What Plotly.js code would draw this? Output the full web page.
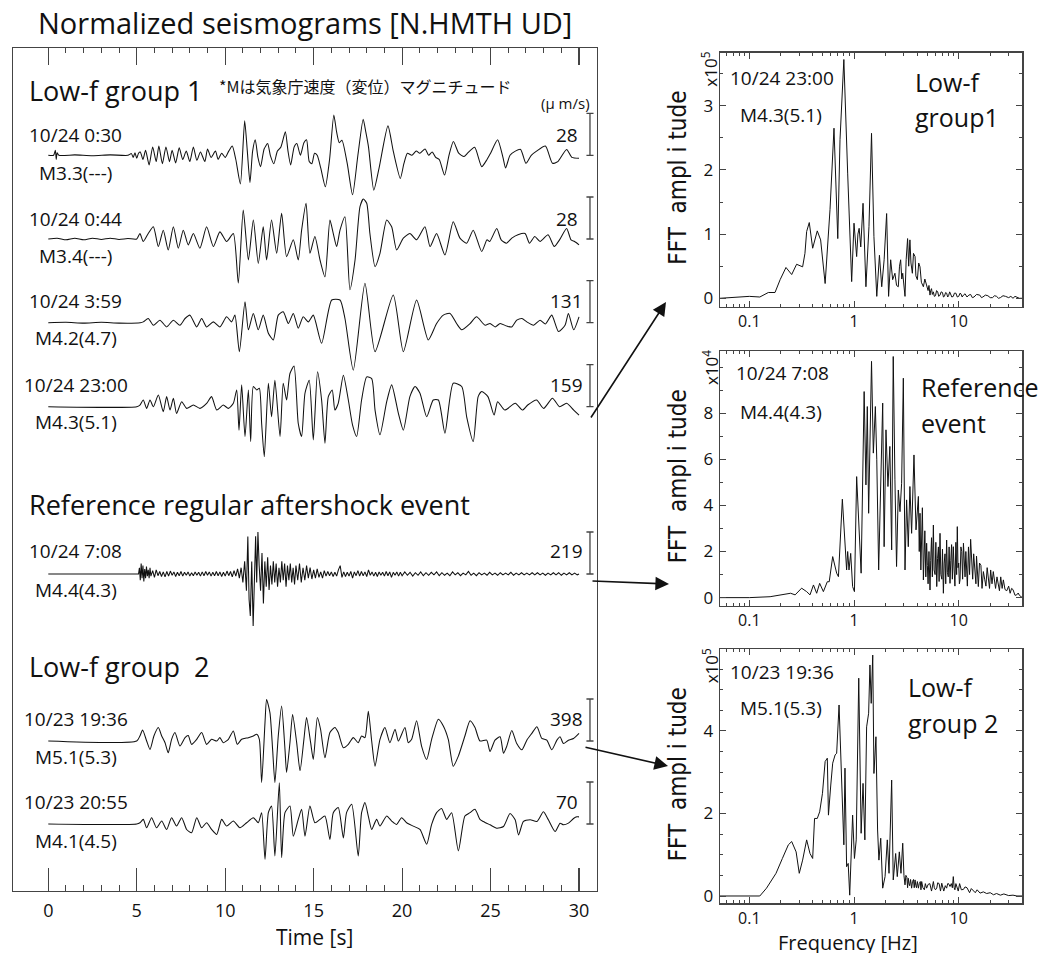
<!DOCTYPE html>
<html><head><meta charset="utf-8">
<script src="https://cdn.plot.ly/plotly-3.0.1.min.js"></script>
<style>html,body{margin:0;padding:0;background:#fff}#chart{width:1063px;height:956px}</style>
</head><body><div id="chart"></div>
<script>
// ---------------- DATA ----------------
// Seismogram traces: [time (s), amplitude normalised to the scale bar]
const trace1 = [[0,0],[0.3,0],[0.4,0.12],[0.45,-0.1],[0.5,0.06],[0.6,0],[1.5,0.01],[2.5,-0.01],[3.5,0.01],[4.5,0],[4.7,0.04],[4.8,-0.05],[4.9,0.06],[5.0,-0.07],[5.1,0.05],[5.2,0.08],[5.35,-0.1],[5.5,0.12],[5.7,-0.23],[5.9,0.2],[6.1,-0.15],[6.25,0.22],[6.45,-0.2],[6.65,0.2],[6.85,-0.15],[7.0,0.12],[7.2,-0.18],[7.4,0.18],[7.6,-0.1],[7.8,0.1],[8.0,-0.15],[8.2,0.2],[8.4,-0.12],[8.6,0.08],[8.85,-0.15],[9.0,0.15],[9.2,-0.05],[9.45,0.1],[9.6,-0.1],[9.8,0.05],[10.0,-0.05],[10.2,0.1],[10.4,0.22],[10.6,-0.1],[10.86,-0.68],[11.1,0.82],[11.25,0.1],[11.4,-0.65],[11.55,0.1],[11.7,0.37],[11.85,-0.05],[12.0,-0.27],[12.2,0.15],[12.4,0.28],[12.55,0],[12.75,-0.2],[12.95,0.1],[13.15,0.2],[13.4,0.56],[13.55,0.1],[13.7,-0.23],[13.9,0.2],[14.05,0.28],[14.25,0],[14.45,0.3],[14.6,0.37],[14.75,-0.15],[14.9,-0.2],[15.05,0.05],[15.2,0],[15.4,-0.3],[15.66,-0.75],[15.9,-0.1],[16.14,0.96],[16.3,0.55],[16.45,0.3],[16.6,0.36],[16.9,-0.2],[17.2,-0.94],[17.5,0],[17.8,0.86],[17.95,0.55],[18.1,0.2],[18.4,-0.83],[18.7,-0.3],[19.2,0.7],[19.5,0.1],[19.9,-0.55],[20.1,-0.2],[20.3,0.05],[20.55,0],[20.8,0.1],[21.0,0.05],[21.3,0.15],[21.5,0],[21.7,0.08],[21.9,-0.05],[22.1,-0.1],[22.4,-0.47],[22.65,0],[22.9,0.33],[23.2,0.05],[23.5,-0.03],[23.7,0.05],[24.1,0.19],[24.5,-0.27],[24.8,-0.1],[25.0,0.05],[25.4,0.37],[25.7,-0.05],[25.85,-0.3],[26.1,0],[26.4,0.1],[26.7,0.14],[27.0,-0.19],[27.3,0],[27.6,0.1],[28.1,0.22],[28.5,-0.19],[28.8,-0.15],[29.3,0.14],[29.6,-0.05],[30,-0.07]];
const trace2 = [[0,0],[0.5,0.02],[1,-0.02],[1.5,0.02],[2,-0.02],[2.5,0.02],[3,-0.01],[3.5,0.02],[4,-0.01],[4.5,0.01],[5,0],[5.18,0.13],[5.37,-0.06],[5.65,0.13],[5.94,0.29],[6.22,-0.18],[6.5,0.21],[6.78,-0.26],[7.07,0.29],[7.35,-0.22],[7.63,0.21],[7.91,-0.14],[8.2,0.13],[8.57,-0.22],[8.95,0.29],[9.33,-0.18],[9.7,0.17],[10.08,-0.06],[10.46,0.13],[10.74,-1.05],[11.02,0.69],[11.31,-0.5],[11.59,0.45],[11.87,-0.58],[12.15,0.29],[12.34,-0.5],[12.62,0.45],[12.91,-0.34],[13.19,0.61],[13.47,-0.42],[13.85,-0.02],[14.13,-0.5],[14.32,0.21],[14.57,0.85],[14.79,-0.34],[15.07,0.06],[15.36,-0.5],[15.64,-0.9],[15.92,0.45],[16.11,0.13],[16.3,-0.18],[16.49,0.21],[16.77,0.53],[17.05,-1.21],[17.34,-0.5],[17.62,0.77],[17.81,0.95],[18.0,0.85],[18.18,0.13],[18.47,-0.66],[18.75,-0.34],[19.13,0.45],[19.41,0.29],[19.69,-0.26],[20.07,0.02],[20.44,0.13],[20.82,-0.02],[21.29,0.29],[21.58,-0.18],[21.95,0.13],[22.42,-0.38],[22.89,0.41],[23.27,0.02],[23.65,-0.1],[24.02,0.21],[24.5,-0.3],[24.8,-0.02],[24.95,-0.06],[25.35,0.25],[25.6,-0.02],[25.9,-0.1],[26.2,0.02],[26.55,0.1],[26.95,0.13],[27.2,-0.1],[27.5,0.06],[27.8,-0.06],[28.25,0.1],[28.6,-0.18],[28.9,-0.02],[29.3,0.25],[29.55,-0.02],[29.75,-0.06],[30,-0.14]];
const trace3 = [[0,0],[1,0.01],[2,-0.01],[3,0.01],[4,-0.01],[5.2,0],[5.37,0.02],[5.65,0.1],[5.94,-0.06],[6.31,0.06],[6.69,-0.1],[7.07,0.06],[7.44,-0.06],[7.73,0.1],[8.01,0.18],[8.39,-0.1],[8.67,0.1],[8.95,-0.1],[9.33,0.02],[9.7,-0.1],[10.08,0.14],[10.36,0.02],[10.55,0.18],[10.8,-0.69],[11.12,0.5],[11.31,-0.17],[11.59,0.22],[11.87,-0.17],[12.15,0.18],[12.44,-0.25],[12.72,-0.41],[13.0,0.18],[13.28,0.26],[13.57,-0.02],[13.85,0.22],[14.13,-0.13],[14.41,0.14],[14.7,0.02],[14.98,0.18],[15.45,-0.49],[16.02,0.54],[16.49,0.54],[16.77,0.1],[17.24,-1.13],[17.9,0.94],[18.47,-0.69],[19.5,0.66],[20.07,-0.69],[20.82,0.54],[21.48,-0.41],[21.95,-0.02],[22.33,0.18],[22.71,0.22],[23.08,-0.02],[23.37,-0.17],[23.84,-0.02],[24.21,0.14],[24.69,-0.06],[24.97,-0.02],[25.26,-0.1],[25.54,-0.02],[25.92,-0.08],[26.2,-0.1],[26.48,0.06],[26.77,0.1],[27.05,0.02],[27.43,-0.06],[27.8,0.06],[28.1,-0.03],[28.46,0.18],[28.84,-0.21],[29.21,-0.06],[29.4,0.22],[29.7,-0.17],[30,0.14]];
const trace4 = [[0,0],[5,0],[5.18,0.04],[5.37,0.16],[5.56,-0.04],[5.75,0.16],[5.94,0],[6.22,0.28],[6.5,-0.12],[6.69,0.24],[6.88,-0.08],[7.07,0.2],[7.25,-0.16],[7.54,0.12],[7.82,-0.04],[8.2,0.04],[8.57,-0.04],[8.95,0.08],[9.23,0.24],[9.52,-0.08],[9.89,0.04],[10.18,-0.04],[10.46,0.08],[10.65,0.4],[10.78,-0.56],[10.93,0.52],[11.12,-0.71],[11.31,0.4],[11.44,-0.83],[11.59,0.48],[11.78,0.4],[11.93,0.44],[12.06,-0.4],[12.21,-1.19],[12.44,0.56],[12.62,-0.24],[12.81,0.63],[13.1,-0.71],[13.28,0.56],[13.47,0.16],[13.66,0.79],[13.89,0.97],[14.13,-0.4],[14.32,-0.71],[14.51,0.32],[14.75,0.63],[14.98,-0.79],[15.22,0.83],[15.45,0.16],[15.64,-0.87],[15.83,0.24],[16.05,0.4],[16.2,-0.08],[16.39,0.08],[16.68,0.75],[16.96,0.16],[17.2,-0.44],[17.43,-0.71],[17.71,0.16],[18.0,0.71],[18.28,0.67],[18.47,-0.08],[18.75,-0.67],[19.13,0.12],[19.41,0.52],[19.79,-0.16],[20.07,-0.56],[20.44,0.24],[20.73,0.48],[21.01,0.32],[21.39,-0.24],[21.76,0.16],[22.05,0.16],[22.42,-0.63],[22.89,0.56],[23.37,0.48],[23.65,-0.24],[24.02,-0.83],[24.3,0.24],[24.5,0.36],[24.85,0.24],[25.2,-0.2],[25.4,0.12],[25.8,-0.08],[26.4,0.08],[26.8,-0.08],[27.1,0.04],[27.6,0.16],[28.0,-0.04],[28.5,0.2],[28.9,0],[29.3,0.08],[29.7,-0.08],[30,-0.2]];
const trace5 = [[0,0],[5.1,0],[5.15,0.15],[5.2,-0.15],[5.25,0.25],[5.3,-0.1],[5.35,0.2],[5.4,-0.18],[5.45,0.12],[5.5,-0.1],[5.55,0.18],[5.6,-0.05],[5.65,0.1],[5.7,-0.1],[5.75,0.15],[5.8,-0.05],[5.9,0.08],[6.0,-0.08],[6.1,0.1],[6.2,-0.04],[6.3,0.06],[6.4,-0.06],[6.5,0.05],[6.6,-0.07],[6.7,0.06],[6.8,-0.05],[6.9,0.07],[7.0,-0.03],[7.1,0.05],[7.2,-0.06],[7.3,0.04],[7.4,-0.04],[7.5,0.06],[7.6,-0.05],[7.7,0.04],[7.8,-0.03],[7.9,0.05],[8.0,-0.05],[8.1,0.03],[8.2,-0.04],[8.3,0.05],[8.4,-0.03],[8.5,0.04],[8.6,-0.05],[8.7,0.05],[8.8,-0.04],[8.9,0.06],[9.0,-0.03],[9.1,0.05],[9.2,-0.05],[9.3,0.04],[9.4,-0.04],[9.5,0.06],[9.6,-0.04],[9.7,0.05],[9.8,-0.06],[9.9,0.04],[10.0,-0.05],[10.1,0.07],[10.2,-0.04],[10.3,0.06],[10.4,-0.07],[10.5,0.08],[10.6,-0.05],[10.7,0.12],[10.8,-0.1],[10.9,0.15],[11.0,-0.2],[11.1,0.3],[11.2,-0.4],[11.28,0.89],[11.35,-0.6],[11.42,-1.0],[11.5,0.3],[11.58,-1.24],[11.66,0.5],[11.72,0.9],[11.78,-0.2],[11.85,1.0],[11.92,0.2],[12.0,-0.4],[12.08,0.5],[12.16,-0.7],[12.24,0.3],[12.32,-0.3],[12.4,0.4],[12.48,-0.38],[12.56,0.2],[12.64,-0.25],[12.72,0.3],[12.8,-0.2],[12.88,0.25],[12.96,-0.3],[13.04,0.15],[13.12,-0.2],[13.2,0.3],[13.28,-0.15],[13.36,0.25],[13.44,-0.3],[13.52,0.2],[13.6,-0.15],[13.68,0.25],[13.76,-0.2],[13.84,0.15],[13.92,-0.25],[14.0,0.2],[14.1,-0.15],[14.2,0.25],[14.3,-0.2],[14.4,0.15],[14.5,-0.15],[14.6,0.2],[14.7,-0.1],[14.8,0.15],[14.9,-0.12],[15.0,0.1],[15.1,-0.1],[15.2,0.12],[15.3,-0.08],[15.4,0.05],[15.5,-0.1],[15.6,0.08],[15.7,-0.05],[15.8,0.06],[15.9,-0.04],[16.0,0.05],[16.1,-0.06],[16.2,0.04],[16.3,-0.05],[16.4,0.1],[16.5,0.2],[16.6,-0.08],[16.7,0.05],[16.8,-0.06],[16.9,0.04],[17.0,-0.05],[17.1,0.06],[17.2,-0.1],[17.3,0.05],[17.4,-0.04],[17.5,0.08],[17.6,-0.05],[17.7,0.06],[17.8,-0.04],[17.9,0.05],[18.0,-0.06],[18.1,0.1],[18.2,-0.03],[18.3,0.05],[18.4,-0.05],[18.5,0.04],[18.6,-0.06],[18.7,0.05],[18.8,-0.03],[18.9,0.04],[19.0,-0.05],[19.1,0.06],[19.2,-0.04],[19.3,0.05],[19.4,-0.08],[19.5,0.04],[19.6,-0.03],[19.7,0.05],[19.8,-0.05],[19.9,0.04],[20.0,-0.04],[20.15,0.05],[20.3,-0.03],[20.45,0.04],[20.6,-0.05],[20.75,0.03],[20.9,-0.03],[21.05,0.05],[21.2,-0.04],[21.35,0.03],[21.5,-0.03],[21.65,0.04],[21.8,-0.02],[21.95,0.05],[22.1,-0.04],[22.25,0.03],[22.4,-0.03],[22.55,0.02],[22.7,-0.04],[22.85,0.05],[23.0,-0.02],[23.15,0.03],[23.3,-0.04],[23.45,0.02],[23.6,-0.02],[23.75,0.06],[23.9,-0.03],[24.05,0.02],[24.2,-0.04],[24.35,0.03],[24.5,-0.02],[24.65,0.02],[24.8,-0.03],[24.95,0.04],[25.1,-0.02],[25.25,0.02],[25.4,-0.03],[25.55,0.03],[25.7,-0.02],[25.85,0.02],[26.0,-0.02],[26.15,0.04],[26.3,-0.03],[26.45,0.02],[26.6,-0.02],[26.75,0.03],[26.9,-0.02],[27.05,0.02],[27.2,-0.02],[27.35,0.03],[27.5,-0.02],[27.65,0.03],[27.8,-0.02],[27.95,0.02],[28.1,-0.03],[28.25,0.02],[28.4,-0.02],[28.55,0.03],[28.7,-0.02],[28.85,0.03],[29.0,-0.03],[29.15,0.02],[29.3,-0.02],[29.45,0.03],[29.6,-0.02],[29.75,0.02],[29.9,-0.02],[30,0]];
const trace6 = [[0,0],[5.0,0],[5.18,0.12],[5.33,0.26],[5.56,0],[5.75,-0.2],[5.97,0.12],[6.22,0.32],[6.41,0.12],[6.6,-0.04],[6.78,-0.28],[6.97,0.04],[7.16,0.2],[7.44,-0.12],[7.73,0.08],[7.91,0.13],[8.1,-0.08],[8.39,0.04],[8.67,0.2],[8.95,-0.08],[9.23,0.04],[9.52,0],[9.7,0.08],[9.89,-0.04],[10.18,0.04],[10.46,0.24],[10.68,-0.08],[10.93,0.04],[11.31,0.08],[11.59,0.12],[11.78,0.16],[11.93,0.04],[12.06,-0.99],[12.25,0.44],[12.34,0.99],[12.53,0.67],[12.68,-0.2],[12.81,-0.99],[13.0,0.12],[13.19,0.83],[13.38,-0.2],[13.47,-0.75],[13.66,-0.04],[13.81,0.63],[14.04,-0.04],[14.23,-0.71],[14.45,0.04],[14.6,0.56],[14.83,-0.04],[14.98,-0.44],[15.21,0.56],[15.39,0.28],[15.64,-0.4],[15.92,0.2],[16.2,0.32],[16.39,0.2],[16.68,-0.16],[16.96,-0.08],[17.24,0.08],[17.52,-0.04],[17.71,0.12],[17.9,0.08],[18.09,0.71],[18.28,0],[18.47,-0.6],[18.75,0.04],[19.03,0.32],[19.31,-0.04],[19.6,0.28],[19.79,0],[20.16,0.32],[20.35,-0.04],[20.54,0.04],[20.82,0.48],[21.1,-0.12],[21.39,-0.44],[21.67,0.04],[22.05,0.52],[22.33,0.36],[22.61,0.04],[22.89,-0.6],[23.18,-0.36],[23.55,0.12],[23.84,0.48],[24.12,0.32],[24.4,0],[24.78,0.02],[24.97,-0.25],[25.25,0.02],[25.54,0.1],[25.73,-0.29],[25.91,-0.13],[26.2,0.25],[26.48,-0.06],[26.77,-0.21],[27.05,0.02],[27.33,0.18],[27.62,0.34],[27.9,0.06],[28.18,0.02],[28.46,-0.21],[28.75,0.02],[28.93,0.1],[29.12,-0.06],[29.4,0.02],[29.69,0.06],[30,0.18]];
const trace7 = [[0,0],[5,0],[5.18,0.03],[5.37,0.11],[5.56,-0.09],[5.84,0.15],[6.12,-0.09],[6.41,0.07],[6.69,-0.13],[6.97,0.15],[7.25,-0.05],[7.54,0.15],[7.82,-0.13],[8.1,-0.21],[8.39,0.15],[8.67,-0.09],[8.95,0.03],[9.23,-0.13],[9.52,-0.25],[9.8,0.11],[10.08,-0.05],[10.46,0.07],[10.83,-0.09],[11.21,0.03],[11.59,0.15],[11.87,0.03],[12.06,0.27],[12.25,-0.84],[12.44,0.27],[12.62,0.43],[12.81,-0.76],[13.06,0.98],[13.19,-0.8],[13.38,0.27],[13.66,0.43],[13.85,-0.29],[14.13,0.11],[14.32,0.35],[14.51,-0.29],[14.79,0.43],[15.07,0.03],[15.36,0.11],[15.64,0.19],[15.92,-0.37],[16.11,0.27],[16.39,0.39],[16.68,-0.33],[16.86,0.27],[17.15,0.47],[17.52,-0.76],[17.71,0.27],[17.9,0.51],[18.09,0.19],[18.28,-0.13],[18.56,0.11],[18.75,-0.05],[19.13,0.19],[19.41,0.07],[19.69,-0.01],[19.97,0.15],[20.26,0.03],[20.63,-0.05],[21.01,-0.13],[21.39,-0.48],[21.67,-0.01],[21.95,0.27],[22.23,0.37],[22.52,0.11],[22.8,0.27],[23.18,-0.64],[23.55,0.19],[23.84,0.27],[24.12,0.35],[24.4,0.11],[24.59,0.06],[24.97,-0.02],[25.35,-0.1],[25.73,-0.06],[26.1,0.25],[26.39,0.1],[26.58,-0.26],[26.86,0.06],[27.24,0.1],[27.62,0.06],[27.99,0.29],[28.27,0.1],[28.65,-0.18],[28.93,0.02],[29.12,-0.02],[29.4,0.02],[29.69,0.13],[29.88,0.17],[30,0.17]];

const traceDates  = ['10/24 0:30','10/24 0:44','10/24 3:59','10/24 23:00','10/24 7:08','10/23 19:36','10/23 20:55'];
const traceMags   = ['M3.3(---)','M3.4(---)','M4.2(4.7)','M4.3(5.1)','M4.4(4.3)','M5.1(5.3)','M4.1(4.5)'];
const traceScales = ['28','28','131','159','219','398','70'];
const timeTicks   = [0,5,10,15,20,25,30];

// FFT spectra: [frequency (Hz), amplitude in units of the panel multiplier]
const fft1 = [[0.0525,0],[0.1,0.03],[0.126,0.02],[0.152,0.09],[0.176,0.09],[0.197,0.29],[0.224,0.48],[0.254,0.37],[0.283,0.53],[0.323,0.49],[0.34,0.7],[0.353,1.04],[0.374,1.18],[0.403,0.78],[0.446,1.05],[0.48,0.91],[0.53,0.23],[0.59,1.38],[0.644,2.65],[0.70,0.93],[0.735,2.47],[0.80,3.72],[0.87,1.95],[0.95,0.26],[1.0,1.17],[1.03,0.9],[1.06,0.65],[1.09,1.0],[1.12,1.09],[1.16,0.8],[1.22,1.48],[1.30,0.18],[1.39,1.12],[1.47,2.57],[1.55,0.96],[1.65,0.03],[1.75,0.67],[1.84,0.18],[1.94,0.6],[2.05,1.32],[2.14,0.03],[2.24,0.6],[2.34,0.29],[2.46,0.39],[2.55,0.2],[2.65,0.18],[2.72,0.5],[2.79,0.6],[2.86,0.3],[2.92,0.39],[3.0,0.15],[3.07,0.03],[3.15,0.6],[3.25,0.93],[3.33,0.5],[3.42,0.91],[3.5,0.55],[3.61,0.39],[3.7,0.7],[3.83,0.65],[3.9,0.35],[4.03,0.29],[4.15,0.55],[4.27,0.49],[4.4,0.25],[4.6,0.18],[4.75,0.3],[4.94,0.21],[5.1,0.12],[5.2,0.2],[5.32,0.05],[5.4,0.12],[5.5,0.15],[5.6,0.06],[5.73,0.1],[5.85,0.03],[6.0,0.04],[6.15,0.12],[6.3,0.1],[6.45,0.03],[6.63,0.05],[6.8,0.1],[7.0,0.09],[7.15,0.02],[7.3,0.03],[7.5,0.09],[7.67,0.08],[7.85,0.02],[8.0,0.04],[8.2,0.1],[8.4,0.07],[8.6,0.02],[8.88,0.03],[9.1,0.08],[9.4,0.08],[9.7,0.02],[10,0.03],[10.3,0.08],[10.5,0.07],[10.8,0.02],[11.1,0.05],[11.5,0.07],[12,0.02],[12.5,0.05],[13,0.06],[13.5,0.01],[14,0.02],[14.8,0.06],[15.9,0.05],[16.5,0.01],[17,0.02],[18,0.05],[19,0.04],[20,0.01],[21,0.01],[22,0.04],[23,0.03],[24,0],[25,0.01],[26.5,0.04],[28,0.03],[30,0.01],[31.5,0.03],[33,0],[34.5,0.03],[36,0.02],[38,0],[40.5,0]];
const fft2 = [[0.0525,0],[0.1,0],[0.158,0.04],[0.211,0.12],[0.248,0.19],[0.274,0.12],[0.316,0.41],[0.353,0.26],[0.38,0.12],[0.41,0.55],[0.44,0.19],[0.47,0.62],[0.51,0.26],[0.556,0.69],[0.58,0.69],[0.626,1.78],[0.683,1.06],[0.71,0.91],[0.774,4.27],[0.85,1.2],[0.87,2.0],[0.896,1.2],[0.93,1.92],[0.97,0.48],[1.01,0.26],[1.06,5.25],[1.17,1.06],[1.25,8.94],[1.30,4.89],[1.34,8.29],[1.38,3.66],[1.47,10.25],[1.53,6.27],[1.6,8.29],[1.65,5.98],[1.72,1.2],[1.8,5.54],[1.88,8.44],[1.94,2.21],[2.02,7.28],[2.11,4.82],[2.2,6.56],[2.29,2.07],[2.37,10.46],[2.46,5.11],[2.55,1.35],[2.65,4.67],[2.75,3.73],[2.85,4.96],[2.96,9.52],[3.07,1.2],[3.18,4.24],[3.3,2.21],[3.42,4.82],[3.55,2.79],[3.74,6.19],[3.91,2.94],[4.12,4.39],[4.2,2.0],[4.27,3.66],[4.35,1.2],[4.43,2.5],[4.5,3.9],[4.6,0.77],[4.68,1.8],[4.75,2.9],[4.85,0.9],[4.94,2.36],[5.02,1.4],[5.1,0.6],[5.2,2.0],[5.32,0.33],[5.4,1.6],[5.5,2.6],[5.6,0.9],[5.73,3.15],[5.82,1.2],[5.95,1.0],[6.05,2.4],[6.17,0.48],[6.28,1.7],[6.4,2.2],[6.5,0.7],[6.63,2.79],[6.75,1.0],[6.9,0.8],[7.0,2.1],[7.14,0.19],[7.27,1.5],[7.4,1.9],[7.52,0.6],[7.67,2.5],[7.8,1.1],[7.95,0.9],[8.1,2.2],[8.26,0.62],[8.4,1.6],[8.55,2.3],[8.7,0.8],[8.88,2.21],[9.05,1.2],[9.2,0.5],[9.4,2.4],[9.55,1.0],[9.7,3.08],[9.85,1.3],[10.0,1.5],[10.15,0.6],[10.3,0.77],[10.5,2.2],[10.7,2.0],[10.9,0.8],[11.1,2.36],[11.3,1.2],[11.5,0.9],[11.7,2.0],[11.9,1.06],[12.1,0.5],[12.4,2.2],[12.7,1.0],[13.0,2.53],[13.3,1.4],[13.6,0.8],[13.9,1.9],[14.3,1.06],[14.6,0.6],[14.8,1.8],[15.1,0.9],[15.4,0.48],[15.8,1.5],[16.3,1.4],[16.7,0.4],[17.2,1.13],[17.7,0.8],[18.2,0.5],[18.7,1.3],[19.2,0.77],[19.7,0.4],[20.2,1.2],[20.8,0.6],[21.4,1.13],[22.0,0.7],[22.5,0.4],[23.2,0.9],[23.9,0.62],[24.5,0.3],[25.2,0.9],[26,0.4],[26.7,0.77],[27.7,0.35],[28.8,0.3],[30,0.5],[31,0.19],[32,0.4],[33,0.35],[34.5,0.1],[35.8,0.12],[37,0.2],[38,0.1],[40.5,0]];
const fft3 = [[0.0525,0],[0.126,0],[0.146,0.19],[0.18,0.55],[0.207,0.91],[0.236,1.24],[0.254,1.32],[0.28,1.07],[0.30,0.55],[0.323,0.87],[0.353,1.36],[0.38,1.03],[0.403,0.91],[0.42,1.88],[0.446,1.88],[0.47,2.04],[0.50,2.49],[0.53,3.26],[0.556,3.34],[0.57,1.96],[0.6,2.69],[0.626,3.22],[0.66,3.42],[0.683,3.46],[0.72,4.63],[0.76,2.81],[0.80,1.24],[0.82,3.1],[0.85,0.71],[0.88,0.79],[0.91,0.02],[0.97,1.96],[1.01,0.91],[1.05,1.36],[1.11,5.28],[1.17,1.52],[1.22,2.73],[1.27,1.36],[1.32,4.1],[1.38,4.43],[1.42,5.6],[1.46,4.67],[1.51,5.84],[1.55,2.97],[1.62,3.86],[1.68,1.6],[1.73,0.87],[1.80,1.4],[1.88,0.19],[1.98,0.47],[2.08,1.36],[2.16,0.55],[2.29,2.81],[2.37,0.39],[2.5,1.03],[2.59,0.47],[2.71,1.07],[2.81,0.55],[2.92,1.28],[3.0,0.5],[3.07,0.27],[3.13,0.5],[3.2,0.45],[3.25,0.2],[3.3,0.43],[3.35,0.3],[3.4,0.25],[3.47,0.4],[3.55,0.19],[3.62,0.35],[3.7,0.4],[3.76,0.2],[3.83,0.39],[3.9,0.25],[3.95,0.2],[4.03,0.35],[4.12,0.19],[4.2,0.3],[4.3,0.35],[4.36,0.15],[4.43,0.35],[4.55,0.2],[4.7,0.15],[4.8,0.3],[4.94,0.19],[5.1,0.28],[5.3,0.3],[5.5,0.12],[5.73,0.35],[5.85,0.2],[6.0,0.15],[6.17,0.19],[6.3,0.32],[6.5,0.3],[6.7,0.12],[6.89,0.31],[7.05,0.2],[7.2,0.12],[7.45,0.25],[7.67,0.19],[7.85,0.3],[8.0,0.3],[8.26,0.23],[8.5,0.3],[8.7,0.2],[8.88,0.47],[9.05,0.2],[9.2,0.15],[9.4,0.3],[9.57,0.23],[9.9,0.12],[10.2,0.3],[10.6,0.15],[11.1,0.16],[11.5,0.22],[12,0.2],[12.7,0.08],[13.2,0.18],[13.8,0.13],[14.4,0.08],[15,0.15],[16,0.07],[17.2,0.1],[18.5,0.06],[20,0.08],[21.5,0.03],[23,0.06],[25,0.02],[27,0.05],[30,0.01],[33,0.02],[36,0],[40.5,0]];

const fftDates = ['10/24 23:00','10/24 7:08','10/23 19:36'];
const fftMags  = ['M4.3(5.1)','M4.4(4.3)','M5.1(5.3)'];
const fftGroups = [['Low-f','group1'],['Reference','event'],['Low-f','group 2']];
const fftExp = ['5','4','5'];
const freqTicks = [0.1,1,10];

// ---------------- LAYOUT ----------------
const W = 1063, H = 956;
const px = x => x / W, py = y => 1 - y / H;
const FONT = '"Open Sans", "Noto Sans", sans-serif';
const CJK = '"Noto Sans CJK JP", "Noto Sans CJK SC", sans-serif';
const NARROW = '"Liberation Sans Narrow", "DejaVu Sans Condensed", sans-serif';
const INK = '#111', FRAME = '#444';

const seis = [trace1, trace2, trace3, trace4, trace5, trace6, trace7];
const baselines = [155.3, 239, 322.7, 406.7, 574, 741, 824];   // screen rows of trace baselines
const dateY = [135, 219, 301, 385, 551, 719, 802];
const magY  = [173, 256, 338, 422, 590, 757, 841];
const BAR = 42;       // height of a scale bar (and unit amplitude), px
const BARX = 30.62;   // time position of the scale bars

const data = [];
const shapes = [];
const ann = [];
function A(o){ ann.push(Object.assign({xref:'paper', yref:'paper', showarrow:false, xanchor:'center', yanchor:'middle', font:{family:FONT, size:19, color:INK}}, o)); }

seis.forEach((tr, i) => {
  const b = baselines[i];
  const smooth = i !== 4;
  data.push({type:'scatter', mode:'lines', x: tr.map(p => p[0]), y: tr.map(p => b - p[1]*BAR),
    xaxis:'x', yaxis:'y', line:{color:INK, width:1.05, shape: smooth ? 'spline' : 'linear', smoothing: smooth ? 0.6 : 0},
    hoverinfo:'skip', showlegend:false});
  // scale bar
  shapes.push({type:'line', xref:'x', yref:'y', x0:BARX, x1:BARX, y0:b, y1:b-BAR, line:{color:FRAME, width:1.3}});
  shapes.push({type:'line', xref:'x', yref:'y', x0:BARX-0.2, x1:BARX+0.2, y0:b, y1:b, line:{color:FRAME, width:1.3}});
  shapes.push({type:'line', xref:'x', yref:'y', x0:BARX-0.2, x1:BARX+0.2, y0:b-BAR, y1:b-BAR, line:{color:FRAME, width:1.3}});
  A({text:traceDates[i], x:px(75.5), y:py(dateY[i])});
  A({text:traceMags[i], x:px(75.5), y:py(magY[i])});
  A({text:traceScales[i], x:px(566.5), y:py(dateY[i])});
});
// dummy for the top tick axis
data.push({type:'scatter', mode:'markers', x:[15], y:[500], xaxis:'x2', yaxis:'y', marker:{opacity:0}, hoverinfo:'skip', showlegend:false});

// spectra
const ffts = [fft1, fft2, fft3];
ffts.forEach((f, i) => {
  data.push({type:'scatter', mode:'lines', x: f.map(p => p[0]), y: f.map(p => p[1]),
    xaxis:'x' + (i+3), yaxis:'y' + (i+3), line:{color:INK, width:1}, hoverinfo:'skip', showlegend:false});
});

// left panel titles
A({text:'Normalized seismograms [N.HMTH UD]', x:px(305), y:py(23), font:{family:FONT, size:29, color:INK}});
A({text:'Low-f group 1', x:px(27), xanchor:'left', y:py(91), font:{family:FONT, size:27, color:INK}});
A({text:'*Mは気象庁速度（変位）マグニチュード', x:px(217), xanchor:'left', y:py(86), font:{family:CJK, size:16, color:INK}});
A({text:'(\u03bc m/s)', x:px(565), y:py(103), font:{family:FONT, size:15, color:INK}});
A({text:'Reference regular aftershock event', x:px(27), xanchor:'left', y:py(504), font:{family:FONT, size:27, color:INK}});
A({text:'Low-f group\u00a0 2', x:px(27), xanchor:'left', y:py(666), font:{family:FONT, size:27, color:INK}});
A({text:'Time [s]', x:px(314), y:py(937), height:22, borderpad:0, font:{family:FONT, size:21, color:INK}});
A({text:'Frequency [Hz]', x:px(848), y:py(942), height:22, borderpad:0, font:{family:FONT, size:20, color:INK}});

// right panel texts
const panelTop = [52.7, 351, 649.3], panelBot = [306.7, 605.7, 903.3];
const pDateY = [78, 373, 671.7], pMagY = [115, 411.7, 708];
const pGrpX = [913, 919, 906], pGrp1Y = [81.7, 386.7, 686.7], pGrp2Y = [116.7, 422.7, 722.7];
[0,1,2].forEach(i => {
  A({text:fftDates[i], x:px(782), y:py(pDateY[i])});
  A({text:fftMags[i], x:px(780.5), y:py(pMagY[i])});
  A({text:fftGroups[i][0], x:px(pGrpX[i]), xanchor:'left', y:py(pGrp1Y[i]), font:{family:FONT, size:25, color:INK}});
  A({text:fftGroups[i][1], x:px(pGrpX[i]), xanchor:'left', y:py(pGrp2Y[i]), font:{family:FONT, size:25, color:INK}});
  A({text:'x10<sup>' + fftExp[i] + '</sup>', x:px(710), y:py(panelTop[i] + 17), textangle:-90, font:{family:FONT, size:17, color:INK}});
  A({text:'FFT\u00a0 ampl\u00a0i\u00a0tude', x:px(678), y:py((panelTop[i] + panelBot[i]) / 2 - 2), textangle:-90, font:{family:NARROW, size:24, color:INK}});
});

// arrows
const arrows = [[666, 302, 590, 419], [669, 584, 591, 581], [668, 766, 584, 747]];
arrows.forEach(a => ann.push({xref:'paper', yref:'paper', x:px(a[0]), y:py(a[1]), ax:a[2]-a[0], ay:a[3]-a[1],
  text:'', showarrow:true, arrowhead:2, arrowsize:1.7, arrowwidth:1.6, arrowcolor:INK, standoff:0}));

const minorT = []; for (let t = 1; t < 30; t++) if (t % 5) minorT.push(t);
const logMinor = []; [0.01,0.1,1,10].forEach(d => { for (let k = 2; k <= 9; k++) { const v = k*d; if (v > 0.052 && v < 40.5) logMinor.push(v); } });

const layout = {
  width: W, height: H, margin:{l:0, r:0, t:0, b:0}, paper_bgcolor:'#fff', plot_bgcolor:'rgba(0,0,0,0)',
  showlegend:false, font:{family:FONT, color:INK},
  xaxis:{domain:[px(13), px(596.7)], range:[-1.995, 31.0], anchor:'y', showline:true, mirror:true, linecolor:FRAME, linewidth:1.3,
    ticks:'inside', ticklen:23, tickwidth:1.2, tickcolor:FRAME, tickvals:timeTicks, ticktext:timeTicks.map(String),
    minor:{tickvals:minorT, ticks:'inside', ticklen:6, tickwidth:1, tickcolor:FRAME},
    tickfont:{family:FONT, size:18, color:INK}, ticklabelstandoff:3, showgrid:false, zeroline:false, fixedrange:true},
  xaxis2:{overlaying:'x', side:'top', anchor:'y', range:[-1.995, 31.0], showline:false, ticks:'inside', ticklen:17, tickwidth:1.2, tickcolor:FRAME,
    tickvals:timeTicks, showticklabels:false, minor:{tickvals:minorT, ticks:'inside', ticklen:5, tickwidth:1, tickcolor:FRAME},
    showgrid:false, zeroline:false},
  yaxis:{domain:[py(890.7), py(48)], range:[890.7, 48], anchor:'x', showline:true, mirror:true, linecolor:FRAME, linewidth:1.3,
    ticks:'', showticklabels:false, showgrid:false, zeroline:false},
  shapes: shapes, annotations: ann
};

const yRanges = [[-0.131, 3.826], [-0.35, 10.70], [-0.177, 5.98]];
const yMajor = [[0,1,2,3], [0,2,4,6,8], [0,2,4]];
const yMinor = [[0.5,1.5,2.5,3.5], [1,3,5,7,9,10], [0.5,1,1.5,2.5,3,3.5,4.5,5,5.5]];
[0,1,2].forEach(i => {
  const n = i + 3;
  layout['xaxis' + n] = {type:'log', domain:[px(720), px(1022.3)], range:[Math.log10(0.0525), Math.log10(40.5)], anchor:'y' + n,
    showline:true, mirror:'ticks', linecolor:FRAME, linewidth:1.3, ticks:'inside', ticklen:6, tickwidth:1, tickcolor:FRAME,
    tickvals:freqTicks, ticktext:['0.1','1','10'], minor:{tickvals:logMinor, ticks:'inside', ticklen:3, tickwidth:1, tickcolor:FRAME},
    tickfont:{family:FONT, size:16, color:INK}, ticklabelstandoff:0, showgrid:false, zeroline:false};
  layout['yaxis' + n] = {domain:[py(panelBot[i]), py(panelTop[i])], range:yRanges[i], anchor:'x' + n,
    showline:true, mirror:'ticks', linecolor:FRAME, linewidth:1.3, ticks:'inside', ticklen:6, tickwidth:1, tickcolor:FRAME,
    tickvals:yMajor[i], ticktext:yMajor[i].map(String), minor:{tickvals:yMinor[i], ticks:'inside', ticklen:3, tickwidth:1, tickcolor:FRAME},
    tickfont:{family:FONT, size:17, color:INK}, ticklabelstandoff:2, showgrid:false, zeroline:false};
});

Plotly.newPlot('chart', data, layout, {staticPlot:true, displayModeBar:false});
</script></body></html>
